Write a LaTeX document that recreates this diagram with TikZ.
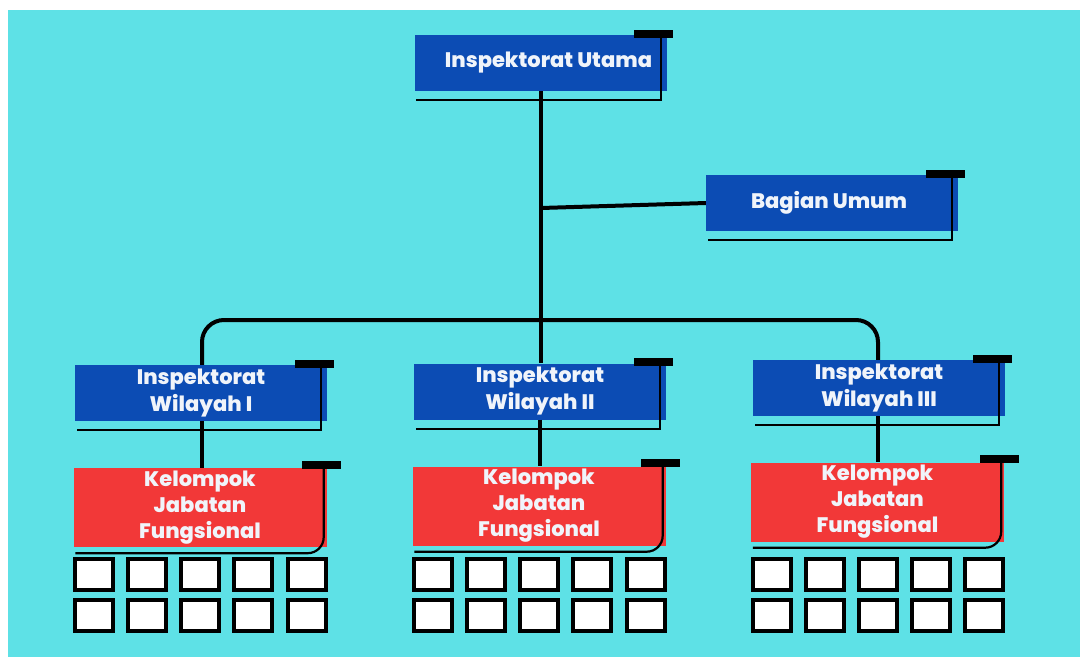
\documentclass[tikz,border=0pt]{standalone}
\usepackage{fontspec}
\setmainfont{Poppins}[BoldFont={Poppins ExtraBold}]
\usetikzlibrary{calc}
\definecolor{bgcyan}{RGB}{94,225,230}
\definecolor{boxblue}{RGB}{12,76,180}
\definecolor{boxred}{RGB}{242,56,56}
\definecolor{txtwhite}{RGB}{240,244,250}
\tikzset{
  bluebox/.style={fill=boxblue, minimum width=252pt, minimum height=56pt, inner sep=0pt,
    text=txtwhite, align=center, font=\fontsize{21}{27}\selectfont\bfseries},
  redbox/.style={fill=boxred, minimum width=253pt, minimum height=79pt, inner sep=0pt,
    text=txtwhite, align=center, font=\fontsize{21}{26}\selectfont\bfseries},
  tabbar/.style={fill=black, minimum width=39pt, minimum height=8pt, inner sep=0pt},
  conn/.style={line width=4pt, black},
  shadowline/.style={line width=2.2pt, black},
  cell/.style={draw=black, line width=4pt, fill=white, minimum width=38pt, minimum height=31pt, inner sep=0pt},
}
\begin{document}
\begin{tikzpicture}[x=1pt,y=-1pt]
\useasboundingbox (0,0) rectangle (1080,657);
\fill[white] (0,0) rectangle (1080,657);
\fill[bgcyan] (8,10) rectangle (1080,657);

% blue boxes
\node[bluebox] (U) at (540.5,63) {\hspace*{16pt}\raisebox{7pt}{Inspektorat Utama}};
\node[bluebox] (B) at (832,203) {\raisebox{-5pt}{Bagian Umum}\hspace*{6pt}};
\node[bluebox] (W1) at (201,393) {Inspektorat\\Wilayah I};
\node[bluebox] (W2) at (540,391.5) {Inspektorat\\Wilayah II};
\node[bluebox] (W3) at (879,388) {Inspektorat\\Wilayah III};
% red boxes
\node[redbox] (K1) at (200,507.5) {Kelompok\\Jabatan\\Fungsional};
\node[redbox] (K2) at (539,506) {Kelompok\\Jabatan\\Fungsional};
\node[redbox] (K3) at (877.5,502) {Kelompok\\Jabatan\\Fungsional};

% shadow outlines and tabs for blue boxes
\foreach \n in {U,B,W1,W2,W3}{
  \draw[shadowline] ($(\n.north east)+(-6,0)$) -- ($(\n.south east)+(-6,9)$) -- ($(\n.south west)+(2,9)$);
  \node[tabbar] (tab\n) at ($(\n.north east)+(-13,-1)$) {};
}
% shadow outlines and tabs for red boxes
\foreach \n in {K1,K2,K3}{
  \draw[shadowline, rounded corners=16pt] ($(\n.north east)+(-3,0)$) -- ($(\n.south east)+(-3,6)$) -- ($(\n.south west)+(2,6)$);
  \node[tabbar] (tab\n) at ($(\n.north east)+(-5,-3)$) {};
}

% connectors
\coordinate (j) at (541,208);
\coordinate (bus) at (541,320);
\coordinate (x1) at (202,0);
\coordinate (x2) at (540,0);
\coordinate (x3) at (878,0);
\draw[conn] (U.south -| j) -- (W2.north -| j);
\draw[conn] (j) -- (B.west);
\draw[conn, rounded corners=22pt] (W1.north -| x1) |- (bus) -| (W3.north -| x3);
\draw[conn] (W1.south -| x1) -- (K1.north -| x1);
\draw[conn] (W2.south -| x2) -- (K2.north -| x2);
\draw[conn] (W3.south -| x3) -- (K3.north -| x3);

% grid cells
\foreach \k/\cx in {1/200,2/539,3/877.5}{
  \foreach \c/\dx in {1/-106,2/-53,3/0,4/53,5/106.5}{
    \node[cell] (sq-\k-\c-1) at (\cx+\dx,574) {};
    \node[cell] (sq-\k-\c-2) at (\cx+\dx,615.5) {};
  }
}
\end{tikzpicture}
\end{document}
